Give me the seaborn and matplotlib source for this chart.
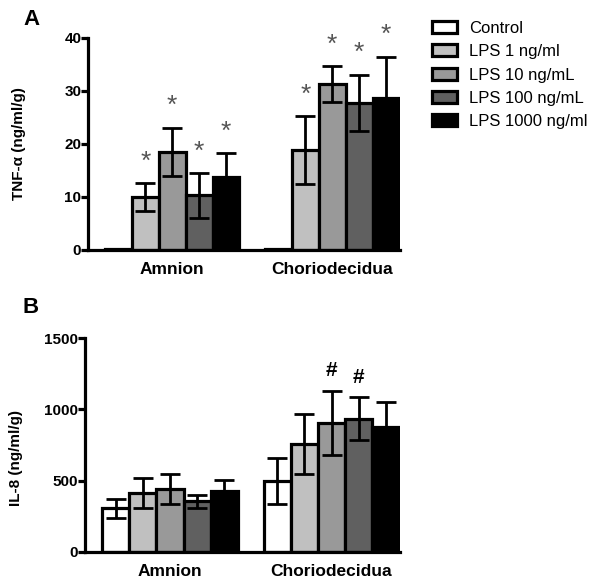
import pandas as pd
import numpy as np
import matplotlib.pyplot as plt
import seaborn as sns
from matplotlib.patches import Patch

tejidos = ['Amnion', 'Choriodecidua']
grupos = ['Control', 'LPS 1 ng/ml', 'LPS 10 ng/mL', 'LPS 100 ng/mL', 'LPS 1000 ng/ml']
cores = ['#ffffff', '#c0c0c0', '#999999', '#606060', '#000000']

# TNF-alfa (ng/ml/g): media e erro por grupo, [Amnion, Choriodecidua]
tnf_media = [[0.15, 0.1], [10.0, 18.9], [18.5, 31.3], [10.3, 27.8], [13.7, 28.6]]
tnf_erro = [[0.0, 0.0], [2.7, 6.4], [4.6, 3.4], [4.2, 5.3], [4.5, 7.9]]
tnf_sig = [[False, False], [True, True], [True, True], [True, True], [True, True]]

# IL-8 (ng/ml/g)
il8_media = [[305, 498], [410, 760], [442, 905], [356, 936], [428, 875]]
il8_erro = [[65, 160], [105, 210], [105, 225], [45, 150], [75, 180]]
il8_sig = [[False, False], [False, False], [False, True], [False, True], [False, False]]

plt.rcParams['font.family'] = ['Liberation Sans', 'DejaVu Sans']


def monta_df(medias):
    linhas = []
    for g, vals in zip(grupos, medias):
        for t, v in zip(tejidos, vals):
            linhas.append({'tecido': t, 'grupo': g, 'valor': v})
    return pd.DataFrame(linhas)


def painel(ax, medias, erros, sig, marca, desloc, ylim, yticks, ylabel, pos_label):
    df = monta_df(medias)
    sns.barplot(data=df, x='tecido', y='valor', hue='grupo', order=tejidos,
                hue_order=grupos, palette=cores, errorbar=None, width=0.84,
                edgecolor='black', linewidth=2.3, legend=False, ax=ax)
    barras = list(ax.containers)
    for i, cont in enumerate(barras):
        for j, bar in enumerate(cont.patches):
            xc = bar.get_x() + bar.get_width() / 2
            m = medias[i][j]
            e = erros[i][j]
            if e > 0:
                ax.errorbar(xc, m, yerr=e, fmt='none', ecolor='black',
                            elinewidth=2, capsize=7, capthick=2, zorder=3)
            if sig[i][j]:
                cor = '#555555' if marca == '*' else 'black'
                tam = 19 if marca == '*' else 15
                ax.text(xc, m + e + desloc, marca, ha='center', va='center',
                        fontsize=tam, color=cor, fontweight='bold' if marca == '#' else 'normal')
    ax.set_xlim(-0.525, 1.425)
    ax.set_ylim(*ylim)
    ax.set_yticks(yticks)
    ax.set_xlabel('')
    ax.set_ylabel(ylabel, fontsize=11, fontweight='bold')
    ax.yaxis.set_label_coords(*pos_label)
    for s in ['top', 'right']:
        ax.spines[s].set_visible(False)
    for s in ['left', 'bottom']:
        ax.spines[s].set_linewidth(2.3)
    ax.tick_params(axis='y', length=5, width=2.3, labelsize=11, pad=0)
    ax.tick_params(axis='x', length=0, labelsize=12.5, pad=9)
    for lab in ax.get_xticklabels() + ax.get_yticklabels():
        lab.set_fontweight('bold')


fig = plt.figure(figsize=(6, 5.84), dpi=100)
ax1 = fig.add_axes([0.147, 0.572, 0.52, 0.363])
ax2 = fig.add_axes([0.142, 0.055, 0.525, 0.366])

painel(ax1, tnf_media, tnf_erro, tnf_sig, '*', 4.0, (0, 40), [0, 10, 20, 30, 40],
       'TNF-α (ng/ml/g)', (-0.199, 0.5))
painel(ax2, il8_media, il8_erro, il8_sig, '#', 140, (0, 1500), [0, 500, 1000, 1500],
       'IL-8 (ng/ml/g)', (-0.197, 0.44))

fig.text(23 / 600, 1 - 25 / 584, 'A', fontsize=16, fontweight='bold', va='baseline')
fig.text(23 / 600, 1 - 313 / 584, 'B', fontsize=16, fontweight='bold', va='baseline')

alcas = [Patch(facecolor=c, edgecolor='black', linewidth=2.3) for c in cores]
fig.legend(alcas, grupos, loc='upper left', bbox_to_anchor=(0.695, 0.99),
           frameon=False, fontsize=12, handlelength=1.5, handleheight=0.75,
           labelspacing=0.5, handletextpad=0.7)

plt.savefig('out.png', dpi=100)
